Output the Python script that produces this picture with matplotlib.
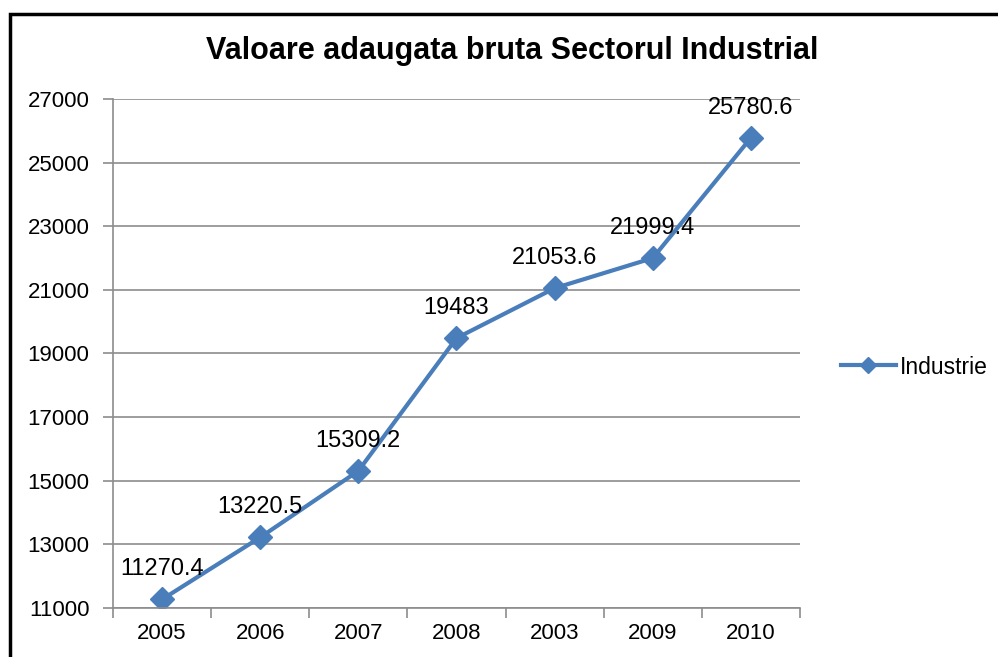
import matplotlib
matplotlib.use("Agg")
import matplotlib.pyplot as plt
from matplotlib.patches import Rectangle
from matplotlib.lines import Line2D

categories = ["2005", "2006", "2007", "2008", "2003", "2009", "2010"]
values = [11270.4, 13220.5, 15309.2, 19483, 21053.6, 21999.4, 25780.6]
labels = ["11270.4", "13220.5", "15309.2", "19483", "21053.6", "21999.4", "25780.6"]
yticks = [11000, 13000, 15000, 17000, 19000, 21000, 23000, 25000, 27000]

plt.rcParams['font.family'] = ['Liberation Sans', 'DejaVu Sans']
color = "#4a7ebb"
grid = "#8c8c8c"

W, H = 998, 657
fig = plt.figure(figsize=(W / 100, H / 100), dpi=100)
fig.patch.set_facecolor("white")

# outer chart border (cropped at right/bottom)
fig.add_artist(Rectangle((10 / W, -0.1), 1.2, 1 - 14 / H + 0.1, transform=fig.transFigure,
                         fill=False, edgecolor="black", linewidth=2.5))

ax = fig.add_axes([113 / W, 1 - 608 / H, (800 - 113) / W, (608 - 99) / H])
x = list(range(len(categories)))
ax.plot(x, values, color=color, linewidth=3, marker="D", markersize=12.5,
        markeredgecolor=color, markerfacecolor=color)
for xi, v, lab in zip(x, values, labels):
    ax.annotate(lab, (xi, v), xytext=(0, 30), textcoords="offset pixels",
                ha="center", va="center", fontsize=17, color="black")

ax.set_xlim(-0.5, len(categories) - 0.5)
ax.set_ylim(11000, 27000)
ax.set_yticks(yticks)
ax.set_yticklabels([str(t) for t in yticks], fontsize=16)
ax.set_xticks(x)
ax.set_xticklabels(categories, fontsize=16)
ax.set_xticks([i - 0.5 for i in range(len(categories) + 1)], minor=True)
ax.tick_params(axis="x", which="major", length=0, pad=11)
ax.tick_params(axis="x", which="minor", length=7, color=grid, width=1.2)
ax.tick_params(axis="y", length=7, color=grid, width=1.2, pad=10)
ax.grid(axis="y", color=grid, linewidth=1.2)
ax.set_axisbelow(True)
for s in ["top", "right"]:
    ax.spines[s].set_visible(False)
for s in ["left", "bottom"]:
    ax.spines[s].set_color(grid)
    ax.spines[s].set_linewidth(1.2)

fig.text(512 / W, 1 - 51 / H, "Valoare adaugata bruta Sectorul Industrial",
         ha="center", va="center", fontsize=22, fontweight="bold")

handle = Line2D([], [], color=color, linewidth=3, marker="D", markersize=8)
fig.legend([handle], ["Industrie"], loc="center left", bbox_to_anchor=(820 / W, 1 - 367 / H),
           frameon=False, fontsize=16.5, handlelength=2.4, handletextpad=0.2)

fig.savefig("out.png", dpi=100)
